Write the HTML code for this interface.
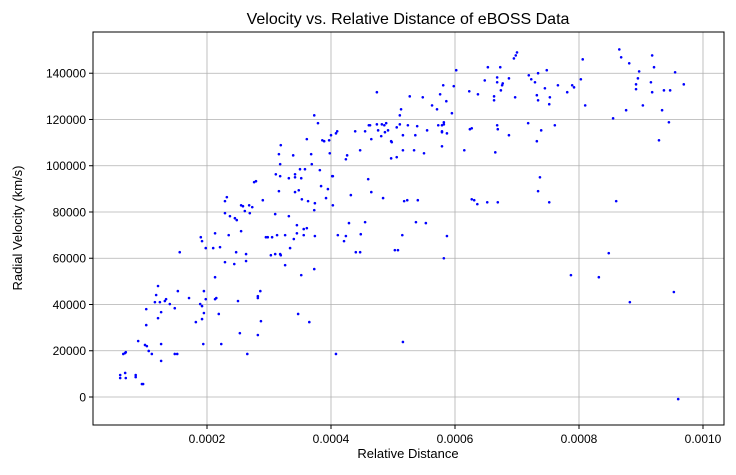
<!DOCTYPE html>
<html><head><meta charset="utf-8"><style>
body{margin:0;background:#fff;}
svg text{font-family:"Liberation Sans","DejaVu Sans",sans-serif;fill:#000;}
</style></head><body>
<svg id="chart" width="736" height="470" viewBox="0 0 736 470" xmlns="http://www.w3.org/2000/svg">
<rect width="736" height="470" fill="#fff"/>
<text x="408" y="24" font-size="16" text-anchor="middle">Velocity vs. Relative Distance of eBOSS Data</text>
<g id="grid"></g>
<g id="points"></g>
<rect x="93" y="32" width="631" height="393" fill="none" stroke="#000" stroke-width="1"/>
<g id="ticks"></g>
<text x="408" y="458" font-size="13" text-anchor="middle">Relative Distance</text>
<text x="22" y="228" font-size="13" text-anchor="middle" transform="rotate(-90 22 228)">Radial Velocity (km/s)</text>
</svg>
<script>
const xTicks=[0.0002,0.0004,0.0006,0.0008,0.0010];
const xTickLabels=["0.0002","0.0004","0.0006","0.0008","0.0010"];
const yTicks=[0,20000,40000,60000,80000,100000,120000,140000];
const yTickLabels=["0","20000","40000","60000","80000","100000","120000","140000"];
// relative distance in units of 1e-6
const distMicro=[60,60,68,69,85,85,95,97,65,68,69,89,100,103,106,111,126,126,102,102,121,126,116,124,118,121,132,134,140,148,148,152,153,156,171,182,189,192,192,195,195,198,194,190,192,198,210,213,221,213,213,215,219,223,229,229,232,235,237,229,244,245,248,247,250,253,255,255,258,261,263,263,265,268,273,269,276,279,282,282,286,287,282,290,295,298,305,303,310,318,319,310,316,326,313,326,332,334,340,342,348,353,345,345,347,352,356,361,356,363,365,
474,527,548,576,586,563,571,595,623,373,379,513,511,361,319,316,339,368,318,369,386,389,397,400,408,410,398,439,455,461,463,474,482,486,489,476,487,492,481,465,447,426,424,497,498,506,511,524,516,539,536,555,516,534,550,497,506,573,579,582,582,579,579,587,579,615,624,627,311,318,332,342,342,352,350,358,382,373,374,384,395,392,403,402,403,432,460,465,484,518,523,540,627,631,636,374,411,424,421,429,448,455,440,447,515,503,508,537,553,587,582,373,516,408,
602,653,673,695,698,700,748,734,719,723,729,745,687,668,668,677,676,674,648,637,663,663,697,732,734,753,752,766,781,789,792,803,806,810,865,868,881,897,895,892,892,918,921,916,918,937,947,955,969,903,876,934,855,945,929,581,598,668,669,687,718,739,732,761,665,737,734,752,669,652,860,848,787,832,953,882,960];
// radial velocity in thousands of km/s
const velK=[9.5,8.2,10.4,8.2,9.5,8.6,5.6,5.6,18.6,19.0,19.4,24.2,22.5,22.0,19.9,18.6,22.9,15.6,31.1,38.0,34.1,36.7,41.0,41.0,44.1,48.0,41.5,42.3,40.2,38.4,18.6,18.6,45.8,62.6,42.8,32.4,40.2,39.3,33.7,36.3,45.8,42.3,22.9,69.1,67.4,64.4,64.4,70.8,64.8,51.8,42.3,42.8,35.9,22.9,79.5,84.7,86.4,70.0,78.2,58.3,57.5,77.3,76.5,62.6,41.5,27.6,71.7,82.9,82.5,80.4,61.8,58.8,18.6,82.9,82.1,79.5,92.9,93.3,43.6,42.8,45.8,32.8,26.8,85.1,69.1,69.1,69.1,61.3,61.8,61.8,61.3,79.1,89.0,70.0,70.0,57.0,78.2,64.4,68.3,88.6,89.4,85.5,74.3,70.8,35.9,52.7,72.6,73.0,70.0,84.7,32.4,
131.8,130.0,129.6,130.9,127.9,126.1,124.4,122.7,132.2,121.8,118.4,124.4,121.8,111.5,108.9,105.0,104.5,105.0,100.7,100.7,111.0,110.6,111.0,113.2,114.0,114.9,105.4,114.9,114.9,117.5,117.5,117.9,117.9,117.5,118.4,115.3,114.5,115.3,112.8,111.5,106.7,104.5,102.8,110.6,110.2,116.6,117.9,117.5,113.2,117.1,113.2,115.3,106.7,106.7,105.4,103.2,103.7,117.5,117.5,118.8,117.9,114.9,114.5,114.0,108.4,106.7,115.8,116.2,96.3,95.5,94.6,96.3,95.0,94.6,98.5,98.5,98.1,80.8,83.8,91.2,89.9,86.0,82.9,95.5,95.5,87.3,94.2,88.6,86.0,84.7,85.1,85.1,85.5,85.1,83.4,69.6,70.0,69.6,67.4,75.2,70.4,75.6,62.6,62.6,70.0,63.5,63.5,75.6,75.2,69.6,60.0,55.3,23.8,18.6,
141.3,142.6,142.6,146.4,147.7,149.0,141.3,140.0,139.1,137.4,136.1,133.5,137.8,138.2,136.1,135.6,134.8,132.6,136.9,130.9,130.0,128.3,129.6,130.5,128.3,129.6,126.6,134.8,131.8,134.8,133.9,137.4,146.0,126.1,150.3,146.9,144.3,140.8,137.8,135.2,133.1,147.7,142.6,136.1,131.8,132.6,132.6,140.4,135.2,126.1,124.0,124.0,120.5,118.8,111.0,134.8,134.4,117.5,115.8,113.2,118.4,115.3,110.6,117.5,105.8,95.0,89.0,84.2,84.2,84.2,84.7,62.2,52.7,51.8,45.4,41.0,-0.9];

const NS="http://www.w3.org/2000/svg";
function xScale(v){return 83+v*620000;}
function yScale(v){return 397-v/432.4;}
const grid=document.getElementById('grid');
const ticks=document.getElementById('ticks');
const pts=document.getElementById('points');
xTicks.forEach((t,i)=>{
  const x=xScale(t);
  const g=document.createElementNS(NS,'line');
  
  
  g.setAttribute('x1',x);g.setAttribute('x2',x);g.setAttribute('y1',32);g.setAttribute('y2',425);
  g.setAttribute('stroke','#b0b0b0');g.setAttribute('stroke-width','0.8');
  grid.appendChild(g);
  const tk=document.createElementNS(NS,'line');
  
  
  tk.setAttribute('x1',x);tk.setAttribute('x2',x);tk.setAttribute('y1',425);tk.setAttribute('y2',429);
  tk.setAttribute('stroke','#000');
  ticks.appendChild(tk);
  const tx=document.createElementNS(NS,'text');
  
  
  tx.setAttribute('x',x);tx.setAttribute('y',443);tx.setAttribute('font-size','12');tx.setAttribute('text-anchor','middle');
  tx.textContent=xTickLabels[i];
  ticks.appendChild(tx);
});
yTicks.forEach((t,i)=>{
  const y=yScale(t);
  const g=document.createElementNS(NS,'line');
  
  
  g.setAttribute('x1',93);g.setAttribute('x2',724);g.setAttribute('y1',y);g.setAttribute('y2',y);
  g.setAttribute('stroke','#b0b0b0');g.setAttribute('stroke-width','0.8');
  grid.appendChild(g);
  const tk=document.createElementNS(NS,'line');
  
  
  tk.setAttribute('x1',89);tk.setAttribute('x2',93);tk.setAttribute('y1',y);tk.setAttribute('y2',y);
  tk.setAttribute('stroke','#000');
  ticks.appendChild(tk);
  const tx=document.createElementNS(NS,'text');
  
  
  tx.setAttribute('x',86);tx.setAttribute('y',y+4.5);tx.setAttribute('font-size','12');tx.setAttribute('text-anchor','end');
  tx.textContent=yTickLabels[i];
  ticks.appendChild(tx);
});
distMicro.forEach((d,i)=>{
  const c=document.createElementNS(NS,'circle');
  
  
  c.setAttribute('cx',xScale(d*1e-6));
  c.setAttribute('cy',yScale(velK[i]*1000));
  c.setAttribute('r','1.3');
  c.setAttribute('fill','#0000ff');
  pts.appendChild(c);
});
</script>
</body></html>
